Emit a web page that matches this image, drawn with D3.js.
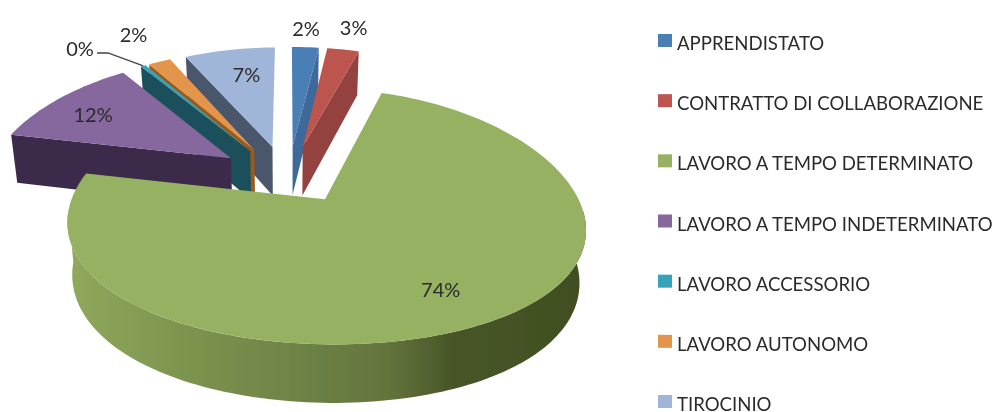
<!DOCTYPE html>
<html>
<head>
<meta charset="utf-8">
<script src="https://cdn.jsdelivr.net/npm/d3@7"></script>
<style>
  html, body { margin: 0; background: #fff; }
  svg { display: block; }
  text { font-family: Lato, "Open Sans", sans-serif; fill: #2b2b2b; }
</style>
</head>
<body>
<div id="chart"></div>
<script>
const categories = ["APPRENDISTATO", "CONTRATTO DI COLLABORAZIONE", "LAVORO A TEMPO DETERMINATO",
    "LAVORO A TEMPO INDETERMINATO", "LAVORO ACCESSORIO", "LAVORO AUTONOMO", "TIROCINIO"];
const shares = [2.2, 2.6, 73.6, 12.0, 0.4, 1.8, 7.4];
const topColors = ["#4a7fb5", "#bd5550", "#96b162", "#86679e", "#35a3b8", "#e3954b", "#9fb6d8"];
const wallColors = ["#3d6a9a", "#94423f", "#6f8647", "#3a2b49", "#1e4f5c", "#9a5a1e", "#4a566c"];

const width = 997, height = 412;

// fake 3d: plane coords are in pie radii, Z goes away from the viewer
const cam = {cx: 288, cy: 174, rx: 243, ry: 119, u: 0.2, v: 0.13, explodeX: 0.29, explodeZ: 0.24, depth: 50};

function project(X, Z, level) {
    const shrink = level ? 0.978 : 1;
    return [
        cam.cx + shrink * cam.rx * X / (1 + cam.u * Z),
        cam.cy - cam.ry * Z / (1 + cam.v * Z) + level * cam.depth / (1 + 0.12 * Z)
    ];
}

const pie = d3.pie().sort(null).value(d => d);
const slices = pie(shares).map((d, i) => {
    const mid = (d.startAngle + d.endAngle) / 2;
    return {
        index: i,
        a0: d.startAngle,
        a1: d.endAngle,
        mid: mid,
        ox: cam.explodeX * Math.sin(mid),
        oz: cam.explodeZ * Math.cos(mid)
    };
});

function point(s, angle, r, level) {
    return project(s.ox + r * Math.sin(angle), s.oz + r * Math.cos(angle), level);
}

function arcPoints(s, a0, a1, level) {
    const n = Math.max(2, Math.ceil((a1 - a0) * 40));
    return d3.range(n + 1).map(k => point(s, a0 + (a1 - a0) * k / n, 1, level));
}

const line = d3.line();

const svg = d3.select("#chart").append("svg")
    .attr("width", width)
    .attr("height", height);

const defs = svg.append("defs");
defs.append("filter").attr("id", "soft")
    .append("feGaussianBlur").attr("stdDeviation", 0.55);

const grad = defs.append("linearGradient")
    .attr("id", "greenWall")
    .attr("gradientUnits", "userSpaceOnUse")
    .attr("x1", 67).attr("x2", 584).attr("y1", 0).attr("y2", 0);
[[0, "#90a95c"], [0.2, "#7f9650"], [0.45, "#6d8346"], [0.62, "#64743d"], [0.75, "#465527"], [1, "#414f22"]]
    .forEach(s => grad.append("stop").attr("offset", s[0]).attr("stop-color", s[1]));

const root = svg.append("g").attr("filter", "url(#soft)");

// painter order, back slices first and the big one last
const drawOrder = [6, 5, 4, 3, 0, 1, 2];
const wallFront = [95 * Math.PI / 180, 265 * Math.PI / 180];

drawOrder.forEach(i => {
    const s = slices[i];
    const g = root.append("g");
    const wall = i === 2 ? "url(#greenWall)" : wallColors[i];

    // cut face, only the one turned towards the viewer
    if (i !== 2) {
        const edge = s.mid < Math.PI ? s.a1 : s.a0;
        g.append("path")
            .attr("d", line([point(s, 0, 0, 0), point(s, edge, 1, 0), point(s, edge, 1, 1), point(s, 0, 0, 1)]) + "Z")
            .attr("fill", wall);
    }

    // outer wall
    const w0 = Math.max(s.a0, wallFront[0]), w1 = Math.min(s.a1, wallFront[1]);
    if (w1 > w0) {
        const pts = arcPoints(s, w0, w1, 0).concat(arcPoints(s, w0, w1, 1).reverse());
        g.append("path").attr("d", line(pts) + "Z").attr("fill", wall);
    }

    // top face
    g.append("path")
        .attr("d", line([point(s, 0, 0, 0)].concat(arcPoints(s, s.a0, s.a1, 0))) + "Z")
        .attr("fill", topColors[i]);
});

// percent labels, radius is measured from each slice's own apex
const labelRadius = [1.16, 1.2, 0.7, 0.7, 1.32, 1.32, 0.72];
const labelNudge = [[-1, -5], [4, -6], [8, 7], [-14, -2], [-35, 6], [-1, -3], [6, -1]];

slices.forEach((s, i) => {
    const p = point(s, s.mid, labelRadius[i], 0);
    root.append("text")
        .attr("x", p[0] + labelNudge[i][0])
        .attr("y", p[1] + labelNudge[i][1])
        .attr("text-anchor", "middle")
        .attr("dominant-baseline", "central")
        .attr("font-size", 20)
        .text(Math.round(shares[i]) + "%");
});

// leader for the 0% label
root.append("path")
    .attr("d", line([[97, 53], [108, 53], point(slices[4], slices[4].mid, 1, 0)]))
    .attr("fill", "none")
    .attr("stroke", "#444")
    .attr("stroke-width", 1.3);

// legend
const rowY = d3.scalePoint().domain(categories).range([43, 404]);

const legend = root.selectAll("g.legend-row")
    .data(categories)
    .enter().append("g")
    .attr("class", "legend-row")
    .attr("transform", d => `translate(658,${rowY(d)})`);

legend.append("rect")
    .attr("y", -9)
    .attr("width", 14)
    .attr("height", 13)
    .attr("fill", (d, i) => topColors[i]);

legend.append("text")
    .attr("x", 19)
    .attr("dominant-baseline", "central")
    .attr("font-size", 18.6)
    .text(d => d);
</script>
</body>
</html>
